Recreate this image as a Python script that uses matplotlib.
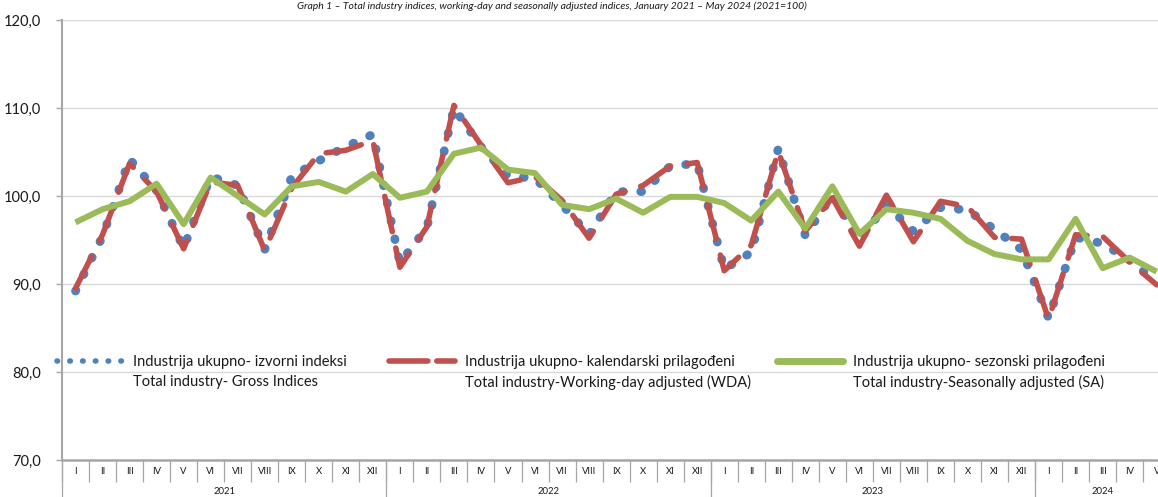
import matplotlib
matplotlib.use("Agg")
import matplotlib.pyplot as plt
import numpy as np
from matplotlib.ticker import FixedLocator, FuncFormatter, NullFormatter
from matplotlib.lines import Line2D
import matplotlib.transforms as mtransforms

plt.rcParams['font.family'] = ['Lato', 'DejaVu Sans']

# ---------------- data ----------------
months = ["I", "II", "III", "IV", "V", "VI", "VII", "VIII", "IX", "X", "XI", "XII",
          "I", "II", "III", "IV", "V", "VI", "VII", "VIII", "IX", "X", "XI", "XII",
          "I", "II", "III", "IV", "V", "VI", "VII", "VIII", "IX", "X", "XI", "XII",
          "I", "II", "III", "IV", "V"]
years = ["2021", "2022", "2023", "2024"]
year_start = [0, 12, 24, 36]
year_len = [12, 12, 12, 5]

gross = [89.2, 95.4, 104.2, 100.6, 94.1, 102.2, 101.2, 93.9, 102.2, 104.0, 105.6, 107.0,
         92.4, 96.4, 110.0, 105.6, 102.3, 102.0, 99.0, 95.6, 100.5, 100.5, 103.4, 103.7,
         91.7, 93.6, 105.4, 95.5, 100.1, 95.0, 99.0, 96.0, 98.7, 98.4, 96.2, 93.9,
         86.1, 95.3, 94.6, 92.7, 90.2]
wda = [89.5, 95.6, 103.7, 100.5, 94.0, 101.6, 101.2, 93.8, 100.9, 104.8, 105.2, 106.3,
       91.9, 96.5, 110.3, 105.8, 101.5, 102.2, 99.5, 95.2, 100.2, 101.2, 103.4, 103.8,
       91.5, 94.4, 105.1, 96.0, 99.8, 94.3, 100.1, 94.8, 99.4, 98.8, 95.3, 95.1,
       86.0, 95.6, 95.4, 92.5, 89.9]
sa = [97.0, 98.5, 99.4, 101.4, 96.8, 102.1, 100.0, 97.9, 101.1, 101.6, 100.5, 102.5,
      99.8, 100.5, 104.8, 105.5, 103.0, 102.6, 99.0, 98.5, 99.7, 98.1, 99.9, 99.9,
      99.2, 97.2, 100.5, 96.3, 101.1, 95.7, 98.5, 98.1, 97.4, 94.9, 93.4, 92.8,
      92.8, 97.4, 91.8, 93.0, 91.4]

labels_1 = ["Industrija ukupno- izvorni indeksi",
            "Industrija ukupno- kalendarski prilagođeni",
            "Industrija ukupno- sezonski prilagođeni"]
labels_2 = ["Total industry- Gross Indices",
            "Total industry-Working-day adjusted (WDA)",
            "Total industry-Seasonally adjusted (SA)"]
title = ("Graph 1 \u2013 Total industry indices, working-day and seasonally adjusted "
         "indices, January 2021 \u2013 May 2024 (2021=100)")

BLUE = "#4F81BD"
RED = "#C0504D"
GREEN = "#9BBB59"
AXC = "#a6a6a6"
TXT = "#1a1a1a"

W, H = 1158, 497
fig = plt.figure(figsize=(W / 100, H / 100), dpi=100)
n = len(months)
month_w = 27.03
ax = fig.add_axes([62 / W, 37 / H, n * month_w / W, 440 / H])

x = np.arange(n)
l1, = ax.plot(x, gross, color=BLUE, lw=6.3, linestyle=(0, (0.1, 2.0)),
              dash_capstyle='round', dash_joinstyle='round', zorder=3)
l2, = ax.plot(x, wda, color=RED, lw=4.0, linestyle=(0, (6.5, 3.0)),
              dash_capstyle='round', dash_joinstyle='round', zorder=4)
l3, = ax.plot(x, sa, color=GREEN, lw=4.3, solid_joinstyle='round',
              solid_capstyle='butt', zorder=5)

ax.set_xlim(-0.5, n - 0.5)
ax.set_ylim(70, 120)

# y axis
ax.set_yticks(np.arange(70, 121, 10))
ax.yaxis.set_major_formatter(FuncFormatter(lambda v, p: f"{v:.1f}".replace(".", ",")))
ax.tick_params(axis='y', length=4, width=1, color=AXC, pad=11, labelsize=10.5,
               labelcolor=TXT)
ax.yaxis.grid(True, color="#d9d9d9", lw=1.0)
ax.set_axisbelow(True)

for s in ["top", "right"]:
    ax.spines[s].set_visible(False)
ax.spines["left"].set_color(AXC)
ax.spines["left"].set_linewidth(1.5)
ax.spines["bottom"].set_color(AXC)
ax.spines["bottom"].set_linewidth(1.8)

# x axis: month separators (major), year separators (minor, longer)
ax.xaxis.remove_overlapping_locs = False
ax.xaxis.set_major_locator(FixedLocator(np.arange(-0.5, n, 1.0)))
ax.xaxis.set_major_formatter(NullFormatter())
ax.xaxis.set_minor_locator(FixedLocator([s - 0.5 for s in year_start] + [n - 0.5]))
ax.xaxis.set_minor_formatter(NullFormatter())
ax.tick_params(axis='x', which='major', length=16, width=0.9, color=AXC)
ax.tick_params(axis='x', which='minor', length=40, width=0.9, color=AXC)

trans = mtransforms.blended_transform_factory(ax.transData, ax.transAxes)
for i, m in enumerate(months):
    ax.text(i, -11 / 440, m, transform=trans, ha='center', va='center',
            fontsize=6.8, color=TXT)
for yname, s0, ln in zip(years, year_start, year_len):
    ax.text(s0 + (ln - 1) / 2, -32 / 440, yname, transform=trans, ha='center',
            va='center', fontsize=6.8, color=TXT)

# legend (first lines) with handles styled as in the reference legend
h1 = Line2D([], [], color=BLUE, lw=4.0, linestyle=(0, (0.1, 2.2)),
            dash_capstyle='round')
h2 = Line2D([], [], color=RED, lw=4.0, linestyle=(0, (7.0, 1.6)),
            dash_capstyle='round')
h3 = Line2D([], [], color=GREEN, lw=5.0, solid_capstyle='round')
leg = fig.legend([h1, h2, h3], labels_1, loc='center left',
                 bbox_to_anchor=(57 / W, 1 - 362 / H), ncol=3, frameon=False,
                 fontsize=10.5, handlelength=4.5, handletextpad=0.7,
                 columnspacing=2.9, borderpad=0, borderaxespad=0)
for t in leg.get_texts():
    t.set_color(TXT)

# second legend lines, placed under each first line
fig.canvas.draw()
for t, second in zip(leg.get_texts(), labels_2):
    bb = t.get_window_extent()
    fig.text(bb.x0 / W, ((bb.y0 + bb.y1) / 2 - 20) / H, second, ha='left',
             va='center', fontsize=10.5, color=TXT)

fig.text(552 / W, 1 - 9 / H, title, ha='center', va='baseline', style='italic',
         fontsize=7.5, color=TXT)

fig.savefig("out.png", dpi=100)
